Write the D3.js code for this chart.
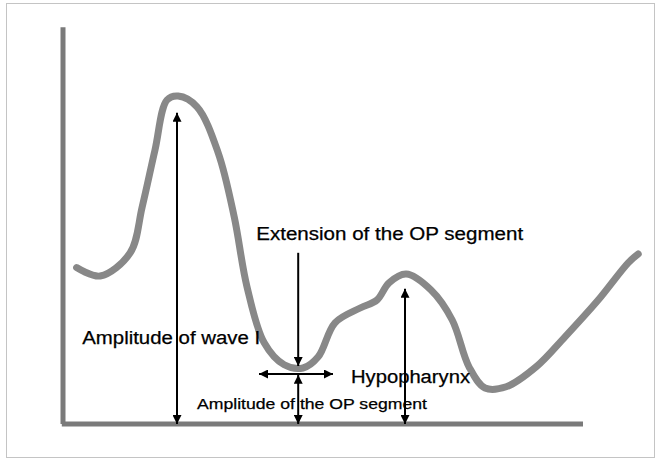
<!DOCTYPE html>
<html>
<head>
<meta charset="utf-8">
<script src="https://cdn.jsdelivr.net/npm/d3@7"></script>
<style>
  body { margin: 0; background: #fff; }
  text { font-family: "Liberation Sans", Arial, sans-serif; fill: #000; stroke: #000; stroke-width: 0.25; }
</style>
</head>
<body>
<svg width="656" height="460"></svg>
<script>
// wave trace (time units, amplitude units)
var waveT = [0.34, 0.93, 1.68, 1.98, 2.30, 2.60, 2.88, 3.35, 3.88, 4.28, 4.60, 5.03, 5.53, 6.00, 6.38, 6.80, 7.43, 7.85, 8.15, 8.58, 9.20, 9.73, 10.15, 10.55, 11.08, 11.83, 12.55, 13.38, 14.13, 14.38];
var waveA = [3.91, 3.70, 4.28, 5.43, 6.85, 8.10, 8.20, 7.93, 6.78, 5.18, 3.43, 2.03, 1.48, 1.40, 1.68, 2.53, 2.90, 3.10, 3.53, 3.75, 3.35, 2.60, 1.43, 0.90, 0.93, 1.43, 2.18, 3.10, 4.03, 4.25];

// measurement arrows: [x1, y1, x2, y2, head at start, head at end]
var arrowNames = ["waveI", "extension", "opWidth", "opAmplitude", "hypopharynx"];
var arrowFrom = [[2.85, 0], [5.88, 4.28], [4.90, 1.25], [5.88, 0], [8.55, 0]];
var arrowTo = [[2.85, 7.78], [5.88, 1.45], [6.75, 1.25], [5.88, 1.23], [8.55, 3.38]];
var arrowHeads = [[true, true], [false, true], [true, true], [true, true], [true, true]];

// labels
var labelText = ["Extension of the OP segment", "Amplitude of wave I", "Hypopharynx", "Amplitude of the OP segment"];
var labelPos = [[4.83, 4.6], [0.48, 2.0], [7.2, 1.03], [3.35, 0.37]];
var labelSize = [18, 18, 18, 15];
var labelWidth = [267, 178, 119, 230];

var svg = d3.select("svg"),
    width = +svg.attr("width"),
    height = +svg.attr("height");

var x = d3.scaleLinear().domain([0, 13]).range([63, 583]);
var y = d3.scaleLinear().domain([0, 10]).range([424, 24]);

// frame round the picture
svg.append("rect")
    .attr("x", 6.5).attr("y", 3.5)
    .attr("width", 648).attr("height", 454)
    .attr("fill", "none")
    .attr("stroke", "#c4c4c4")
    .attr("stroke-width", 1);

var defs = svg.append("defs");
defs.append("marker")
    .attr("id", "head")
    .attr("viewBox", "0 0 10 10")
    .attr("refX", 10).attr("refY", 5)
    .attr("markerWidth", 4.5).attr("markerHeight", 4.5)
    .attr("orient", "auto-start-reverse")
    .append("path")
    .attr("d", "M0,0 L10,5 L0,10 z")
    .attr("fill", "#000");

// axes (plain, no ticks)
svg.append("line")
    .attr("x1", x(0)).attr("y1", y(9.92))
    .attr("x2", x(0)).attr("y2", y(0))
    .attr("stroke", "#7a7a7a").attr("stroke-width", 5);
svg.append("line")
    .attr("x1", x(-0.03)).attr("y1", y(0))
    .attr("x2", x(13)).attr("y2", y(0))
    .attr("stroke", "#7a7a7a").attr("stroke-width", 5);

var points = waveT.map(function(t, i) { return [t, waveA[i]]; });

var line = d3.line()
    .x(function(d) { return x(d[0]); })
    .y(function(d) { return y(d[1]); })
    .curve(d3.curveCatmullRom.alpha(0.5));

svg.append("path")
    .datum(points)
    .attr("d", line)
    .attr("fill", "none")
    .attr("stroke", "#888888")
    .attr("stroke-width", 7)
    .attr("stroke-linecap", "round")
    .attr("stroke-linejoin", "round");

// arrows
arrowNames.forEach(function(name, i) {
  var a = svg.append("line")
      .attr("class", name)
      .attr("x1", x(arrowFrom[i][0])).attr("y1", y(arrowFrom[i][1]))
      .attr("x2", x(arrowTo[i][0])).attr("y2", y(arrowTo[i][1]))
      .attr("stroke", "#000")
      .attr("stroke-width", 2);
  if (arrowHeads[i][0]) a.attr("marker-start", "url(#head)");
  if (arrowHeads[i][1]) a.attr("marker-end", "url(#head)");
});

// labels, stretched a little wider like the original
labelText.forEach(function(t, i) {
  svg.append("text")
      .attr("x", x(labelPos[i][0]))
      .attr("y", y(labelPos[i][1]))
      .attr("font-size", labelSize[i])
      .attr("textLength", labelWidth[i])
      .attr("lengthAdjust", "spacingAndGlyphs")
      .text(t);
});
</script>
</body>
</html>
